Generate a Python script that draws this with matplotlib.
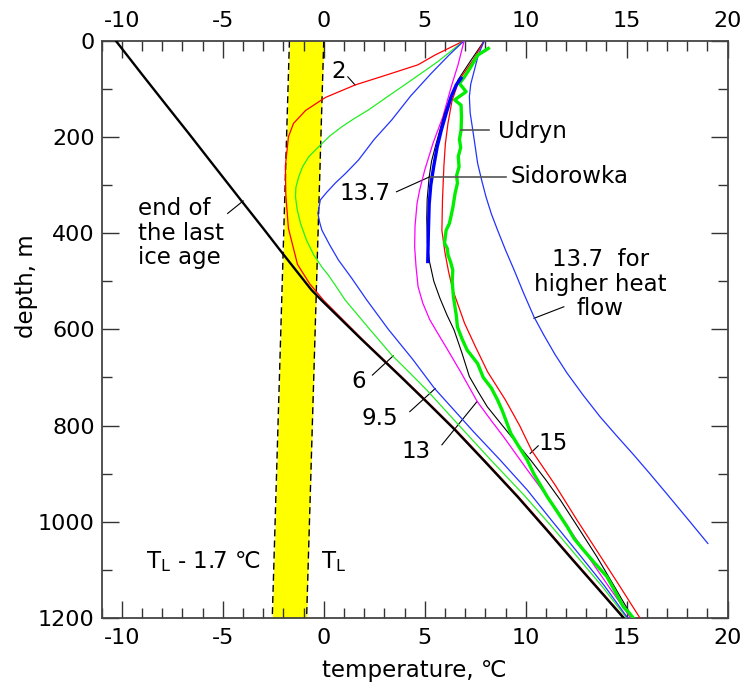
import matplotlib
matplotlib.use("Agg")
import matplotlib.pyplot as plt
from matplotlib.ticker import MultipleLocator

# --- data (temperature in deg C, depth in m) ---
band_z = [0, 1200]
band_tl = [0.0, -0.85]          # T_L
band_tl17 = [-1.7, -2.55]       # T_L - 1.7

ice_T = [-10.3, -9.0, -7.74, -6.7, -5.79, -4.11, -3.0, -2.17, -1.4, -0.61, -0.1,
         1.85, 3.8, 5.15, 6.5, 8.05, 9.6, 11.0, 12.3, 13.6, 14.85]
ice_z = [0, 70, 137, 192, 241, 331, 390, 435, 476, 518, 540,
         620, 698, 753, 809, 878, 948, 1015, 1078, 1140, 1200]

red2_T = [6.95, 5.5, 4.67, 3.2, 1.55, 0.08, -0.9, -1.5, -1.75, -1.9, -1.88, -1.75,
          -1.3, -0.7, 0.0, 1.9, 3.85, 5.2, 6.55, 8.1, 9.65, 11.05, 12.35, 13.65, 14.9]
red2_z = [0, 30, 50, 70, 92, 118, 145, 172, 200, 260, 320, 390,
          465, 505, 540, 620, 698, 753, 809, 878, 948, 1015, 1078, 1140, 1200]

green6_T = [6.95, 5.6, 4.34, 3.2, 2.21, 1.5, 0.89, 0.3, -0.17, -0.74, -1.05, -1.24,
            -1.38, -1.40, -1.32, -1.15, -0.85, -0.5, -0.1, 0.24, 0.6, 1.06, 2.2,
            3.36, 4.25, 5.1, 6.75, 8.35, 9.95, 11.25, 12.5, 13.8, 15.0]
green6_z = [0, 45, 82, 115, 144, 162, 179, 198, 217, 241, 262, 283,
            305, 324, 350, 380, 415, 445, 470, 488, 510, 539, 596,
            653, 690, 726, 802, 875, 946, 1008, 1070, 1135, 1200]

blue95_T = [6.95, 6.2, 5.32, 4.3, 3.36, 2.5, 1.72, 1.1, 0.57, 0.15, -0.17, -0.29,
            -0.2, -0.09, 0.3, 0.73, 1.39, 2.13, 3.2, 4.4, 5.49, 6.5, 7.4, 8.7,
            10.08, 11.3, 12.6, 13.9, 15.05]
blue95_z = [0, 30, 68, 115, 165, 205, 248, 275, 296, 315, 331, 359,
            378, 394, 425, 456, 494, 539, 600, 662, 723, 770, 812, 870,
            934, 998, 1065, 1133, 1200]

mag13_T = [6.95, 6.65, 6.31, 5.9, 5.41, 5.0, 4.75, 4.62, 4.52, 4.5, 4.57, 4.67,
           4.9, 5.25, 5.7, 6.1, 6.8, 7.6, 8.3, 8.9, 10.08, 11.56, 12.4, 13.3,
           14.25, 15.2]
mag13_z = [0, 50, 96, 158, 213, 269, 310, 338, 385, 428, 470, 511,
           545, 580, 612, 640, 690, 750, 790, 823, 892, 976, 1030, 1085,
           1143, 1200]

blk137_T = [7.95, 7.3, 6.64, 6.25, 5.98, 5.57, 5.34, 5.22, 5.12, 5.1, 5.13, 5.24,
            5.45, 5.75, 6.1, 6.45, 6.85, 7.21, 7.65, 8.1, 9.1, 10.25, 11.0, 11.72,
            12.6, 13.53, 14.4, 15.3]
blk137_z = [0, 40, 82, 120, 151, 213, 250, 283, 330, 370, 420, 460,
            500, 535, 570, 601, 650, 698, 730, 761, 813, 872, 913, 955,
            1012, 1073, 1135, 1200]

red15_T = [7.95, 7.4, 6.7, 6.35, 6.15, 6.02, 5.95, 5.88, 5.85, 6.0, 6.18, 6.39,
           6.97, 7.5, 8.11, 9.0, 9.7, 10.3, 11.45, 12.55, 13.6, 14.6, 15.66]
red15_z = [0, 40, 82, 125, 172, 215, 260, 330, 394, 440, 480, 518,
           587, 635, 688, 747, 800, 852, 923, 997, 1065, 1130, 1200]

bluehf_T = [7.95, 7.65, 7.46, 7.28, 7.21, 7.25, 7.38, 7.5, 7.62, 7.82, 8.03, 8.3,
            8.61, 9.0, 9.43, 9.9, 10.41, 10.9, 11.45, 12.05, 12.85, 13.69, 14.5,
            15.33, 16.15, 16.97, 18.0, 19.02]
bluehf_z = [0, 30, 61, 90, 116, 150, 186, 220, 255, 290, 324, 360,
            394, 435, 477, 525, 574, 612, 652, 691, 737, 782, 821,
            860, 900, 941, 993, 1045]

udryn_T = [8.15, 7.62, 7.29, 6.97, 6.72, 7.05, 6.48, 6.80, 6.82, 6.80, 6.72, 6.78,
           6.66, 6.70, 6.58, 6.62, 6.50, 6.40, 6.30, 6.22, 6.06, 5.98, 6.12, 6.15,
           6.28, 6.39, 6.36, 6.42, 6.56, 6.62, 6.85, 7.1, 7.62, 7.9, 8.3, 8.61,
           8.85, 9.26, 9.55, 10.08, 10.4, 10.75, 11.07, 11.5, 12.05, 12.4, 12.87,
           13.4, 14.02, 14.3, 14.84, 15.1, 15.33]
udryn_z = [16, 30, 54, 75, 89, 106, 123, 134, 160, 186, 205, 222,
           241, 262, 280, 296, 318, 345, 365, 380, 394, 421, 432, 445,
           460, 477, 500, 532, 570, 595, 620, 643, 671, 700, 722, 747,
           770, 816, 836, 872, 900, 925, 948, 975, 1010, 1035, 1059,
           1085, 1114, 1135, 1177, 1188, 1200]

sido_T = [6.8, 6.56, 6.31, 6.06, 5.82, 5.62, 5.45, 5.3, 5.22, 5.18, 5.15]
sido_z = [78, 92, 116, 151, 186, 220, 260, 300, 340, 400, 459]

x_ticks = [-10, -5, 0, 5, 10, 15, 20]

plt.rcParams["font.family"] = ["DejaVu Sans"]
plt.rcParams["font.size"] = 16.5
plt.rcParams["axes.unicode_minus"] = False

fig = plt.figure(figsize=(7.44, 6.9), dpi=100)
ax = fig.add_axes([0.1366, 0.1043, 0.8414, 0.8367])

# melting band
ax.fill_betweenx(band_z, band_tl17, band_tl, color="#ffff00", lw=0, zorder=1)
ax.plot(band_tl, band_z, color="k", lw=1.0, ls=(0, (5, 3)), zorder=2)
ax.plot(band_tl17, band_z, color="k", lw=1.0, ls=(0, (5, 3)), zorder=2)

# model curves
ax.plot(red2_T, red2_z, color="#ff0000", lw=0.9, zorder=3)
ax.plot(ice_T, ice_z, color="k", lw=1.7, zorder=4)
ax.plot(green6_T, green6_z, color="#22ee22", lw=0.9, zorder=3)
ax.plot(blue95_T, blue95_z, color="#2233ff", lw=0.9, zorder=3)
ax.plot(mag13_T, mag13_z, color="#ff00ff", lw=0.9, zorder=3)
ax.plot(blk137_T, blk137_z, color="k", lw=0.8, zorder=3)
ax.plot(red15_T, red15_z, color="#ff0000", lw=0.9, zorder=3)
ax.plot(bluehf_T, bluehf_z, color="#2233ff", lw=0.9, zorder=3)

# measured profiles
ax.plot(udryn_T, udryn_z, color="#00ee00", lw=2.4, zorder=5)
ax.plot(sido_T, sido_z, color="#0000ff", lw=2.4, zorder=5)

# labels and pointers
ax.text(0.73, 64, "2", ha="center", va="center")
ax.plot([1.19, 1.55], [75, 92], color="k", lw=0.8)

ax.text(2.05, 317, "13.7", ha="center", va="center")
ax.plot([3.60, 5.24], [314, 283], color="k", lw=0.8)

ax.text(9.26, 283, "Sidorowka", ha="left", va="center")
ax.plot([5.32, 9.01], [283, 283], color="#555555", lw=1.2, zorder=6)

ax.text(8.61, 189, "Udryn", ha="left", va="center")
ax.plot([6.80, 8.20], [186, 186], color="#555555", lw=1.2, zorder=6)

ax.text(13.69, 506, "13.7  for\nhigher heat\nflow", ha="center", va="center",
        multialignment="center", linespacing=1.1)
ax.plot([11.89, 10.41], [553, 577], color="k", lw=0.8)

ax.text(-9.19, 400, "end of\nthe last\nice age", ha="left", va="center",
        multialignment="left", linespacing=1.1)
ax.plot([-4.76, -3.99], [359, 333], color="k", lw=0.8)

ax.text(1.72, 709, "6", ha="center", va="center")
ax.plot([2.41, 3.44], [695, 655], color="k", lw=0.8)
ax.text(2.78, 785, "9.5", ha="center", va="center")
ax.plot([4.26, 5.52], [771, 723], color="k", lw=0.8)
ax.text(4.59, 854, "13", ha="center", va="center")
ax.plot([5.85, 7.59], [840, 750], color="k", lw=0.8)
ax.text(11.36, 837, "15", ha="center", va="center")
ax.plot([10.62, 10.22], [842, 858], color="k", lw=0.8)

ax.text(-8.8, 1083, r"T$_{\mathrm{L}}$ - 1.7 ℃", ha="left", va="center")
ax.text(-0.15, 1083, r"T$_{\mathrm{L}}$", ha="left", va="center")

# axes
ax.set_xlim(-11, 20)
ax.set_ylim(1200, 0)
ax.set_xticks(x_ticks)
ax.xaxis.set_minor_locator(MultipleLocator(1))
ax.yaxis.set_major_locator(MultipleLocator(200))
ax.yaxis.set_minor_locator(MultipleLocator(100))
ax.tick_params(which="both", direction="in", top=True, right=True,
               labeltop=True, labelbottom=True, color="#333333", width=1.0,
               labelsize=16)
ax.tick_params(which="major", length=12)
ax.tick_params(which="minor", length=7)
ax.tick_params(axis="x", which="major", pad=7)
ax.tick_params(axis="y", which="major", pad=5)
for s in ax.spines.values():
    s.set_color("#444444")
    s.set_linewidth(1.3)

ax.set_xlabel("temperature, ℃", labelpad=8)
ax.set_ylabel("depth, m")
ax.yaxis.set_label_coords(-0.101, 0.575)

fig.savefig("out.png", dpi=100)
